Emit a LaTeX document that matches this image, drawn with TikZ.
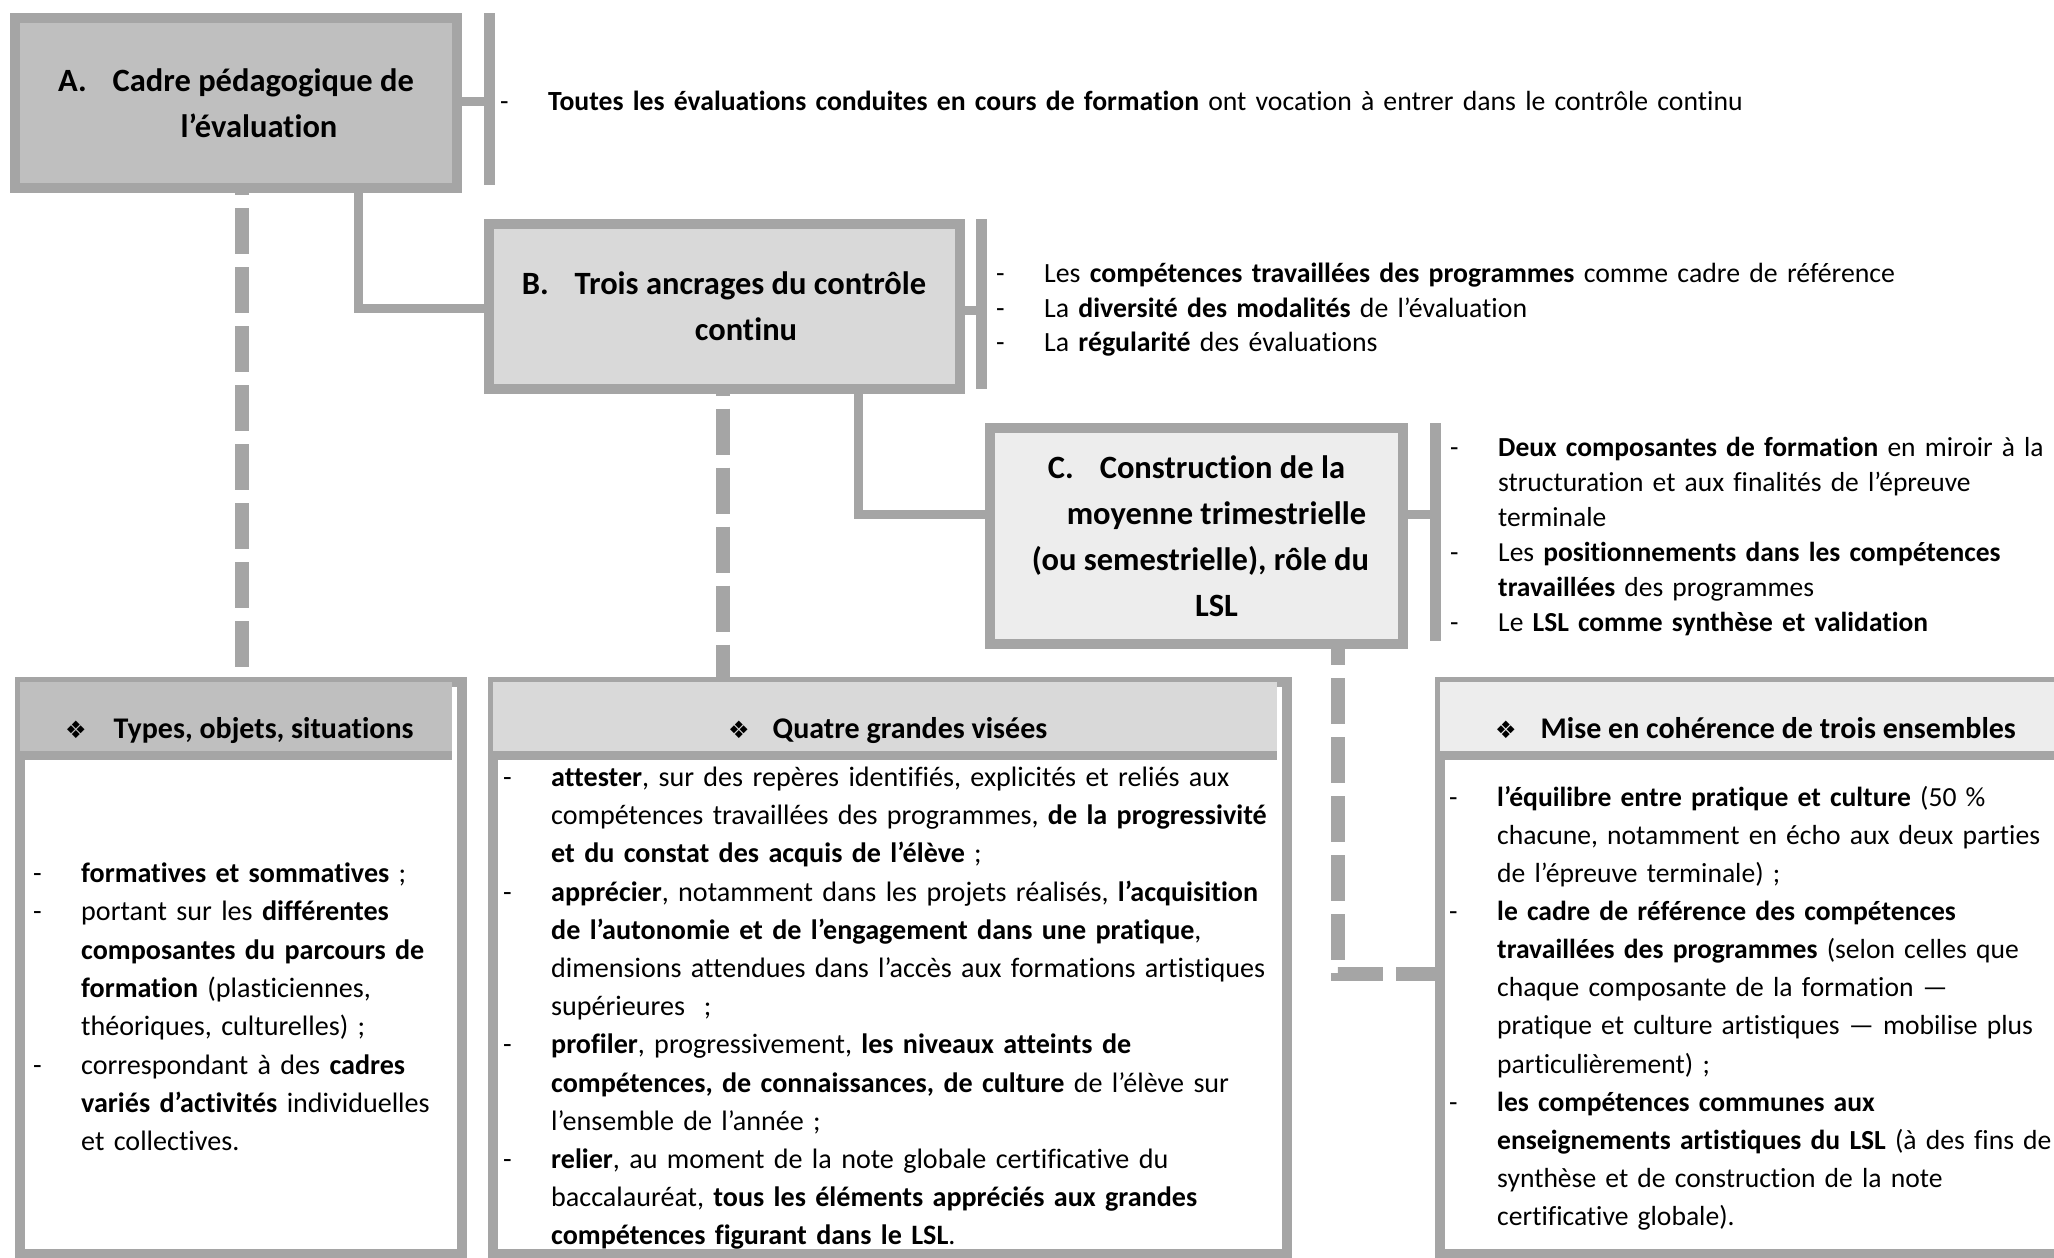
\documentclass[tikz,border=0pt]{standalone}
\usepackage{fontspec}
\setmainfont{Carlito}[Ligatures=NoCommon]
\newfontfamily\symf{DejaVu Sans}
\definecolor{bord}{HTML}{A5A5A5}
\definecolor{fillA}{HTML}{BFBFBF}
\definecolor{fillB}{HTML}{D9D9D9}
\definecolor{fillC}{HTML}{EDEDED}
\newlength\dashind
\setlength\dashind{48pt}
\newcommand\nl{\newline}
\newcommand\itm[1]{\par\noindent\hangindent=\dashind\hangafter=1\strut\makebox[\dashind][l]{-}#1\par}
\begin{document}
\begin{tikzpicture}[x=1pt,y=-1pt,
  box/.style={draw=bord,line width=10pt,inner sep=0pt,rectangle},
  ttl/.style={font=\fontsize{32.5}{46}\selectfont\bfseries,align=center},
  conn/.style={draw=bord,line width=9pt},
  dconn/.style={draw=bord,line width=14pt,dash pattern=on 46pt off 13pt},
  bar/.style={draw=bord,line width=11pt},
  hline/.style={draw=bord,line width=9pt},
  hdr/.style={inner sep=0pt,minimum height=73pt,anchor=north west},
  hdrtxt/.style={anchor=base west,inner sep=0pt,font=\fontsize{30}{34}\selectfont\bfseries},
  lst/.style={anchor=north west,inner sep=0pt,align=left,text width=#1},
]
\useasboundingbox (0,0) rectangle (2054,1258);
\clip (0,0) rectangle (2054,1258);

% top boxes
\node[box,fill=fillA,minimum width=442,minimum height=170,ttl] (A) at (236,103)
  {A.\hspace{0.8em}Cadre pédagogique de\\\hspace*{46pt}l’évaluation};
\node[box,fill=fillB,minimum width=471,minimum height=165,ttl] (B) at (724,306)
  {B.\hspace{0.8em}Trois ancrages du contrôle\\\hspace*{44pt}continu};
\node[box,fill=fillC,minimum width=413,minimum height=216,ttl] (C) at (1196.5,536)
  {C.\hspace{0.8em}Construction de la\\\hspace*{40pt}moyenne trimestrielle\\\hspace*{8pt}(ou semestrielle), rôle du\\\hspace*{40pt}LSL};

% bottom boxes
\node[box,fill=white,minimum width=442,minimum height=572,anchor=north west] (P1) at (15,677) {};
\node[box,fill=white,minimum width=794,minimum height=572,anchor=north west] (P2) at (488,677) {};
\node[box,fill=white,minimum width=645,minimum height=572,anchor=north west] (P3) at (1435,677) {};
\node[hdr,fill=fillA,minimum width=432] (H1) at (20,682) {};
\node[hdr,fill=fillB,minimum width=784] (H2) at (493,682) {};
\node[hdr,fill=fillC,minimum width=635] (H3) at (1440,682) {};
\draw[hline] (H1.south west) -- (H1.south east);
\draw[hline] (H2.south west) -- (H2.south east);
\draw[hline] (H3.south west) -- (H3.south east);

\node[hdrtxt] (T1) at (65,738) {{\symf\fontsize{24}{28}\selectfont ❖}\hspace{27pt}Types, objets, situations};
\node[hdrtxt] (T2) at (728,738) {{\symf\fontsize{24}{28}\selectfont ❖}\hspace{23pt}Quatre grandes visées};
\node[hdrtxt] (T3) at (1495,738) {{\symf\fontsize{24}{28}\selectfont ❖}\hspace{24pt}Mise en cohérence de trois ensembles};

% brackets
\coordinate (bA1) at (489,13);  \coordinate (bA2) at (489,185);
\coordinate (bB1) at (981,219); \coordinate (bB2) at (981,389);
\coordinate (bC1) at (1435,423); \coordinate (bC2) at (1435,641);
\draw[bar] (bA1) -- (bA2);
\draw[bar] (bB1) -- (bB2);
\draw[bar] (bC1) -- (bC2);
\coordinate (sA) at (489,101);
\coordinate (sB) at (981,310);
\coordinate (sC) at (1435,514);
\draw[conn] (A.east |- sA) -- (sA);
\draw[conn] (B.east |- sB) -- (sB);
\draw[conn] (C.east |- sC) -- (sC);

% solid connectors
\coordinate (kAB) at (358,308);
\coordinate (kBC) at (858,514);
\draw[conn] (A.south -| kAB) -- (kAB) -- (B.west |- kAB);
\draw[conn] (B.south -| kBC) -- (kBC) -- (C.west |- kBC);

% dashed connectors
\coordinate (dA) at (242,0);
\coordinate (dB) at (723,0);
\coordinate (kC) at (1338,974);
\draw[dconn,dash phase=44pt] (A.south -| dA) -- (P1.north -| dA);
\draw[dconn,dash phase=44pt] (B.south -| dB) -- (P2.north -| dB);
\draw[dconn,dash phase=30pt] (C.south -| kC) -- (kC) -- (P3.west |- kC);

% texts
\node[lst=1700,font=\fontsize{27.7}{32}\selectfont] (L0) at (500,78)
 {\itm{\textbf{Toutes les évaluations conduites en cours de formation} ont vocation à entrer dans le contrôle continu}};
\node[lst=1000,font=\fontsize{27.8}{34.5}\selectfont] (LB) at (996,248)
 {\itm{Les \textbf{compétences travaillées des programmes} comme cadre de référence}
  \itm{La \textbf{diversité des modalités} de l’évaluation}
  \itm{La \textbf{régularité} des évaluations}};
\node[lst=700,font=\fontsize{27.5}{35}\selectfont] (LC) at (1450,421)
 {\itm{\textbf{Deux composantes de formation} en miroir à la\nl structuration et aux finalités de l’épreuve\nl terminale}
  \itm{Les \textbf{positionnements dans les compétences}\nl\textbf{travaillées} des programmes}
  \itm{Le \textbf{LSL comme synthèse et validation}}};
\node[lst=700,font=\fontsize{28.1}{38.3}\selectfont] (L1) at (33,844)
 {\itm{\textbf{formatives et sommatives} ;}
  \itm{portant sur les \textbf{différentes}\nl\textbf{composantes du parcours de}\nl\textbf{formation} (plasticiennes,\nl théoriques, culturelles) ;}
  \itm{correspondant à des \textbf{cadres}\nl\textbf{variés d’activités} individuelles\nl et collectives.}};
\node[lst=1000,font=\fontsize{28.1}{38.2}\selectfont] (L2) at (503,748)
 {\itm{\textbf{attester}, sur des repères identifiés, explicités et reliés aux\nl compétences travaillées des programmes, \textbf{de la progressivité}\nl\textbf{et du constat des acquis de l’élève} ;}
  \itm{\textbf{apprécier}, notamment dans les projets réalisés, \textbf{l’acquisition}\nl\textbf{de l’autonomie et de l’engagement dans une pratique},\nl dimensions attendues dans l’accès aux formations artistiques\nl supérieures~ ;}
  \itm{\textbf{profiler}, progressivement, \textbf{les niveaux atteints de}\nl\textbf{compétences, de connaissances, de culture} de l’élève sur\nl l’ensemble de l’année ;}
  \itm{\textbf{relier}, au moment de la note globale certificative du\nl baccalauréat, \textbf{tous les éléments appréciés aux grandes}\nl\textbf{compétences figurant dans le LSL}.}};
\node[lst=800,font=\fontsize{27.6}{38.1}\selectfont] (L3) at (1449,768)
 {\itm{\textbf{l’équilibre entre pratique et culture} (50~\%\nl chacune, notamment en écho aux deux parties\nl de l’épreuve terminale) ;}
  \itm{\textbf{le cadre de référence des compétences}\nl\textbf{travaillées des programmes} (selon celles que\nl chaque composante de la formation —\nl pratique et culture artistiques — mobilise plus\nl particulièrement) ;}
  \itm{\textbf{les compétences communes aux}\nl\textbf{enseignements artistiques du LSL} (à des fins de\nl synthèse et de construction de la note\nl certificative globale).}};
\end{tikzpicture}
\end{document}
